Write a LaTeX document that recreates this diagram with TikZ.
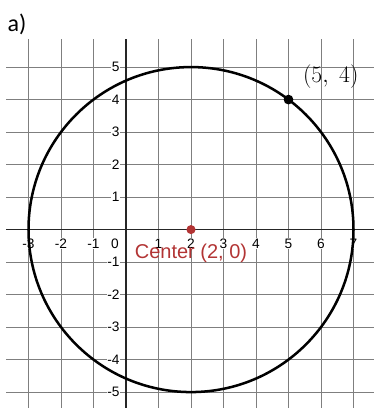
\documentclass[tikz,border=0pt]{standalone}
\usepackage{fontspec}
\setmainfont{Liberation Sans}
\newfontfamily\partfont{Carlito}
\usetikzlibrary{arrows.meta,positioning,calc}
\definecolor{gridgray}{HTML}{7F7F7F}
\definecolor{axisdark}{HTML}{262626}
\definecolor{centerred}{HTML}{B23434}

\begin{document}
\begin{tikzpicture}[x=1cm,y=1cm,
  gridline/.style={draw=gridgray,line width=0.7pt},
  axisline/.style={draw=axisdark,line width=1.5pt},
  ticklabel/.style={fill=white,inner sep=0.6pt,font=\fontsize{12}{14}\selectfont},
  dot/.style={circle,inner sep=0pt,minimum size=#1}]
  \useasboundingbox (-3.877,-5.49) rectangle (7.631,7.064);
  % grid
  \foreach \i in {-5,...,5} \draw[gridline] (-3.69,\i) -- (7.631,\i);
  \foreach \i in {-3,...,7} \draw[gridline] (\i,-5.49) -- (\i,5.86);
  % tick labels
  \foreach \i in {-3,-2,-1,1,2,3,4,5,6,7} \node[ticklabel] (xl\i) at (\i,-0.43) {\i};
  \foreach \i in {-5,...,-1,1,2,3,4,5} \node[ticklabel,anchor=east] (yl\i) at (-0.17,\i) {\i};
  \node[ticklabel] (origin) at (-0.34,-0.43) {0};
  % axes
  \coordinate (xmin) at (-3.69,0);
  \coordinate (xmax) at (7.631,0);
  \coordinate (ymin) at (0,-5.49);
  \coordinate (ymax) at (0,5.86);
  \draw[axisline] (xmin) -- (xmax);
  \draw[axisline] (ymin) -- (ymax);
  % circle and points
  \node[dot=0.28cm,fill=centerred] (ctr) at (2,0) {};
  \draw[line width=2.2pt] (ctr.center) circle (5);
  \node[dot=0.3cm,fill=black] (pt) at (5,4) {};
  \node[font=\fontsize{21}{24}\selectfont,inner sep=0pt] (ptlabel) at ($(pt)+(1.3,0.72)$) {$(5,\;4)$};
  \node[text=centerred,font=\fontsize{17.5}{20}\selectfont,inner sep=0pt] (ctrlabel) at ($(ctr)+(0,-0.72)$) {Center (2, 0)};
  \node[font=\partfont\fontsize{21}{24}\selectfont,inner sep=0pt] (part) at (-3.35,6.32) {a)};
\end{tikzpicture}
\end{document}
